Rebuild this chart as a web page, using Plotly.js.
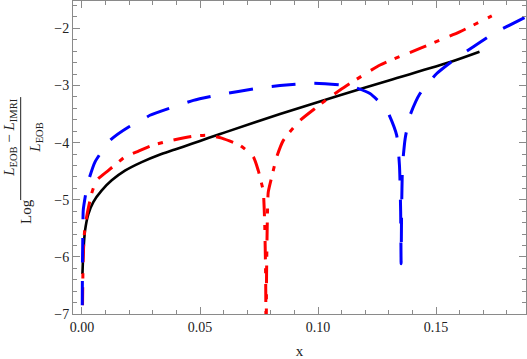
<!DOCTYPE html>
<html>
<head>
<meta charset="utf-8">
<script src="https://cdn.plot.ly/plotly-3.0.1.min.js"></script>
<style>
    html, body { margin: 0; padding: 0; background: #fff; }
    #graph { width: 527px; height: 359px; }
</style>
</head>
<body>
<div id="graph"></div>
<script>
// values
const blackX = [0.0002, 0.00055, 0.0013, 0.0027, 0.0048, 0.0083, 0.0126, 0.0182, 0.0253, 0.0323, 0.0394, 0.0465, 0.0535, 0.0606, 0.0839, 0.1093, 0.1300, 0.156, 0.1684];
const blackY = [-6.30, -5.95, -5.54, -5.25, -5.04, -4.84, -4.66, -4.49, -4.34, -4.22, -4.12, -4.02, -3.92, -3.82, -3.50, -3.17, -2.91, -2.59, -2.41];

const redX = [0.00005, 0.0003, 0.00055, 0.0012, 0.0022, 0.0041, 0.0062, 0.0111, 0.0182, 0.0232, 0.0295, 0.038, 0.0465, 0.0535, 0.0592, 0.067, 0.0726, 0.0747, 0.0761, 0.0768, 0.0774, 0.0778, 0.0780, 0.0782, 0.0785, 0.0789, 0.0804, 0.0825, 0.0853, 0.0924, 0.0994, 0.1051, 0.1122, 0.1263, 0.1432, 0.160, 0.1736];
const redY = [-7.6, -6.6, -5.95, -5.50, -5.25, -4.89, -4.66, -4.49, -4.25, -4.16, -4.05, -3.96, -3.89, -3.87, -3.92, -4.05, -4.25, -4.49, -4.72, -4.84, -5.4, -6.3, -7.6, -6.3, -5.4, -4.87, -4.60, -4.25, -3.96, -3.61, -3.38, -3.20, -3.00, -2.64, -2.35, -2.06, -1.78];

const blueX = [0.00005, 0.0002, 0.0004, 0.00055, 0.0024, 0.0055, 0.0119, 0.0196, 0.0253, 0.0288, 0.0472, 0.0571, 0.0754, 0.0839, 0.098, 0.1136, 0.122, 0.1291, 0.1333, 0.1345, 0.1350, 0.1352, 0.1354, 0.1358, 0.1369, 0.139, 0.1432, 0.1503, 0.1573, 0.1658, 0.1743, 0.1856, 0.190];
const blueY = [-7.6, -6.2, -5.5, -5.18, -4.72, -4.34, -3.96, -3.73, -3.61, -3.52, -3.26, -3.17, -3.04, -3.00, -2.96, -3.01, -3.14, -3.43, -3.87, -4.4, -5.2, -6.12, -5.2, -4.4, -3.93, -3.52, -3.14, -2.79, -2.56, -2.32, -2.09, -1.85, -1.76];

const xTicks = [0, 0.05, 0.10, 0.15];
const xTickText = ['0.00', '0.05', '0.10', '0.15'];
const yTicks = [-7, -6, -5, -4, -3, -2];

document.addEventListener('DOMContentLoaded', function() {
    const serif = 'Liberation Serif, Times New Roman, serif';
    const frameColor = '#8a8a8a';

    const traces = [
        {
            type: 'scatter', mode: 'lines',
            x: blackX, y: blackY,
            line: { color: '#000000', width: 2.6, shape: 'spline', smoothing: 0.8 }
        },
        {
            type: 'scatter', mode: 'lines',
            x: redX, y: redY,
            line: { color: '#ff0000', width: 3, dash: '18px,9px,5px,11px', shape: 'spline', smoothing: 0.5 }
        },
        {
            type: 'scatter', mode: 'lines',
            x: blueX, y: blueY,
            line: { color: '#0000ff', width: 3, dash: '24px,19px', shape: 'spline', smoothing: 0.5 }
        }
    ];

    const axisCommon = {
        showgrid: false,
        zeroline: false,
        showline: true,
        linecolor: frameColor,
        linewidth: 1,
        mirror: 'ticks',
        ticks: 'inside',
        ticklen: 7,
        tickcolor: frameColor,
        tickfont: { family: serif, size: 14, color: '#222' }
    };

    const layout = {
        width: 527,
        height: 359,
        margin: { l: 73, r: 1, t: 1, b: 45 },
        paper_bgcolor: '#ffffff',
        plot_bgcolor: '#ffffff',
        showlegend: false,
        font: { family: serif, color: '#222' },
        xaxis: Object.assign({}, axisCommon, {
            range: [-0.0038, 0.1881],
            tickvals: xTicks,
            ticktext: xTickText,
            minor: { dtick: 0.01, tick0: 0, ticks: 'inside', ticklen: 4, tickcolor: frameColor },
            title: { text: 'x', font: { family: serif, size: 15, color: '#222' }, standoff: 12 }
        }),
        yaxis: Object.assign({}, axisCommon, {
            range: [-7, -1.52],
            tickvals: yTicks,
            minor: { dtick: 0.2, tick0: 0, ticks: 'inside', ticklen: 4, tickcolor: frameColor }
        }),
        shapes: [
            {
                type: 'line', xref: 'paper', yref: 'paper',
                x0: -0.1155, x1: -0.1155, y0: 0.693, y1: 0.364,
                line: { color: '#222', width: 1 }
            }
        ],
        annotations: [
            {
                xref: 'paper', yref: 'paper', x: -0.139, y: 0.563,
                text: '<i>L</i><sub>EOB</sub> − <i>L</i><sub>IMRI</sub>',
                textangle: -90, showarrow: false,
                xanchor: 'center', yanchor: 'middle',
                font: { family: serif, size: 15, color: '#222' }
            },
            {
                xref: 'paper', yref: 'paper', x: -0.082, y: 0.563,
                text: '<i>L</i><sub>EOB</sub>',
                textangle: -90, showarrow: false,
                xanchor: 'center', yanchor: 'middle',
                font: { family: serif, size: 15, color: '#222' }
            },
            {
                xref: 'paper', yref: 'paper', x: -0.104, y: 0.329,
                text: 'Log',
                textangle: -90, showarrow: false,
                xanchor: 'center', yanchor: 'middle',
                font: { family: serif, size: 15, color: '#222' }
            }
        ]
    };

    Plotly.newPlot('graph', traces, layout, { displayModeBar: false, staticPlot: true });
});
</script>
</body>
</html>
